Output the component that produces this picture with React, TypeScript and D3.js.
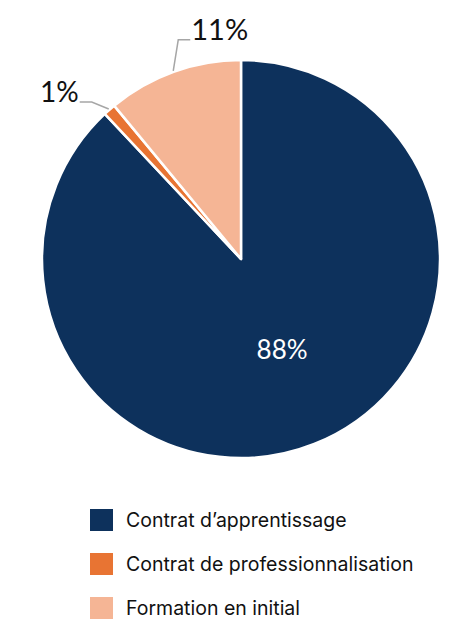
import React from "react";
import * as d3 from "d3";

const categories = ["Contrat d’apprentissage", "Contrat de professionnalisation", "Formation en initial"];
const values = [88, 1, 11];
const labels = ["88%", "1%", "11%"];
const colors = ["#0d315c", "#e87433", "#f5b595"];

const W = 473;
const H = 626;
const cx = 241;
const cy = 259;
const R = 199;

export default function App() {
  const pie = d3.pie<number>().sort(null).value((d) => d)(values);
  const arc = d3.arc<d3.PieArcDatum<number>>().innerRadius(0).outerRadius(R);

  // point at radius r along the middle of a slice
  const rim = (a: d3.PieArcDatum<number>, r: number) => {
    const m = (a.startAngle + a.endAngle) / 2;
    return [cx + r * Math.sin(m), cy - r * Math.cos(m)];
  };

  const inner = rim(pie[0], R * 0.52);
  const p1 = rim(pie[1], R + 1);
  const p2 = rim(pie[2], R + 1);

  return (
    <svg width={W} height={H} style={{ position: "absolute", left: 0, top: 0 }}>
      <rect width={W} height={H} fill="#fff" />
      <g transform={`translate(${cx},${cy})`}>
        {pie.map((p, i) => (
          <path key={i} d={arc(p) as string} fill={colors[i]} stroke="#fff" strokeWidth={2.5} strokeLinejoin="round" />
        ))}
      </g>
      {/* 88% inside the large slice */}
      <text x={inner[0] + 3} y={inner[1] + 4} fill="#fff" fontFamily="Lato, 'Open Sans', sans-serif" fontSize={26} textAnchor="middle">
        {labels[0]}
      </text>
      {/* leader line and label for the 1% slice */}
      <polyline
        points={`${p1[0]},${p1[1]} ${p1[0] - 17},${p1[1] - 7} ${p1[0] - 29},${p1[1] - 7}`}
        fill="none"
        stroke="#a6a6a6"
        strokeWidth={1.5}
      />
      <text x={p1[0] - 30} y={p1[1] - 7} fill="#111" fontFamily="Lato, 'Open Sans', sans-serif" fontSize={28} textAnchor="end">
        {labels[1]}
      </text>
      {/* leader line and label for the 11% slice */}
      <polyline
        points={`${p2[0]},${p2[1]} ${p2[0] + 5},${p2[1] - 31} ${p2[0] + 17},${p2[1] - 31}`}
        fill="none"
        stroke="#a6a6a6"
        strokeWidth={1.5}
      />
      <text x={p2[0] + 18} y={p2[1] - 31} fill="#111" fontFamily="Lato, 'Open Sans', sans-serif" fontSize={29} textAnchor="start">
        {labels[2]}
      </text>
      {/* legend */}
      {categories.map((c, i) => (
        <g key={c} transform={`translate(90,${509 + i * 44})`}>
          <rect width={23} height={22} fill={colors[i]} />
          <text x={36} y={18} fill="#111" fontFamily="Inter, 'Noto Sans', sans-serif" fontSize={19.5}>
            {c}
          </text>
        </g>
      ))}
    </svg>
  );
}
